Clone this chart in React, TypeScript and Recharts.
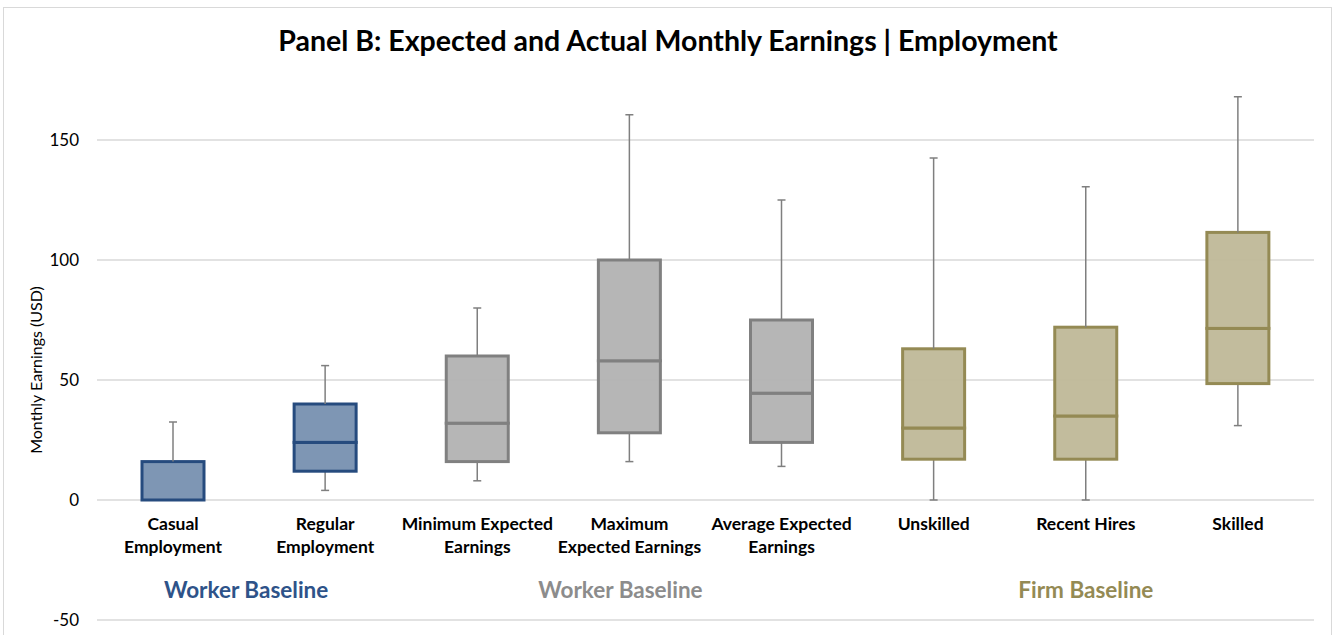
import React from 'react';
import { ComposedChart, Bar, XAxis, YAxis, CartesianGrid, ReferenceArea } from 'recharts';

const categories = [
    'Casual\nEmployment',
    'Regular\nEmployment',
    'Minimum Expected\nEarnings',
    'Maximum\nExpected Earnings',
    'Average Expected\nEarnings',
    'Unskilled',
    'Recent Hires',
    'Skilled',
];
const groupOf = [0, 0, 1, 1, 1, 2, 2, 2];
const whiskerLow = [0, 4, 8, 16, 14, 0, 0, 31];
const q1 = [0, 12, 16, 28, 24, 17, 17, 48.5];
const median = [0, 24, 32, 58, 44.5, 30, 35, 71.5];
const q3 = [16, 40, 60, 100, 75, 63, 72, 111.5];
const whiskerHigh = [32.5, 56, 80, 160.5, 125, 142.5, 130.5, 168];

const yTicks = [-50, 0, 50, 100, 150];
const groupNames = ['Worker Baseline', 'Worker Baseline', 'Firm Baseline'];
const groupFirst = [0, 2, 5];
const groupLast = [1, 4, 7];
const groupShift = [-3, -9, 0];

const palette = [
    { fill: '#7790b0', stroke: '#264b7e', text: '#2e5389' },
    { fill: '#b2b2b2', stroke: '#808080', text: '#8c8c8c' },
    { fill: '#bfb898', stroke: '#948a54', text: '#948a54' },
];

const data = categories.map((name, i) => ({
    name,
    group: groupOf[i],
    base: whiskerLow[i],
    lowWhisker: q1[i] - whiskerLow[i],
    lowBox: median[i] - q1[i],
    highBox: q3[i] - median[i],
    highWhisker: whiskerHigh[i] - q3[i],
}));

const FONT = 'Lato, "Open Sans", sans-serif';
const WHISKER = '#7f7f7f';

const Whisker = (props: any) => {
    const { x, y, width, height, capAt } = props;
    if (!height || height <= 0) return <g />;
    const cx = x + width / 2;
    const capY = capAt === 'top' ? y : y + height;
    return (
        <g>
            <line x1={cx} x2={cx} y1={y} y2={y + height} stroke={WHISKER} strokeWidth={1.5} />
            <line x1={cx - 4} x2={cx + 4} y1={capY} y2={capY} stroke={WHISKER} strokeWidth={1.5} />
        </g>
    );
};

const Box = (props: any) => {
    const { x, y, width, height, payload } = props;
    const c = palette[payload.group];
    return (
        <rect
            x={x}
            y={y}
            width={width}
            height={Math.max(height || 0, 0)}
            fill={c.fill}
            fillOpacity={0.95}
            stroke={c.stroke}
            strokeWidth={3}
        />
    );
};

const CategoryTick = (props: any) => {
    const { x, y, payload } = props;
    const lines = String(payload.value).split('\n');
    // labels sit just under the zero line, not under the -50 edge
    return (
        <text x={x} y={y - 98} textAnchor="middle" fontFamily={FONT} fontWeight={700} fontSize={17.5} fill="#000">
            {lines.map((l, i) => (
                <tspan key={i} x={x} dy={i === 0 ? 0 : 23}>
                    {l}
                </tspan>
            ))}
        </text>
    );
};

const YLabel = (props: any) => {
    const { viewBox } = props;
    const cx = 35;
    const cy = viewBox.y + viewBox.height / 2 + 20;
    return (
        <text
            x={cx}
            y={cy}
            transform={`rotate(-90 ${cx} ${cy})`}
            textAnchor="middle"
            dominantBaseline="central"
            fontFamily={FONT}
            fontSize={16}
            fill="#000"
        >
            Monthly Earnings (USD)
        </text>
    );
};

export default function App() {
    return (
        <div
            style={{
                position: 'absolute',
                left: 0,
                top: 0,
                width: 1336,
                height: 635,
                overflow: 'hidden',
                background: '#fff',
            }}
        >
            <div
                style={{
                    position: 'absolute',
                    left: 3,
                    top: 7,
                    width: 1329,
                    height: 640,
                    border: '1px solid #d9d9d9',
                    boxSizing: 'border-box',
                }}
            />
            <div
                style={{
                    position: 'absolute',
                    left: 0,
                    top: 22,
                    width: 1336,
                    textAlign: 'center',
                    fontFamily: FONT,
                    fontWeight: 700,
                    fontSize: 28.5,
                    lineHeight: '36px',
                    color: '#000',
                }}
            >
                Panel B: Expected and Actual Monthly Earnings | Employment
            </div>
            <ComposedChart
                width={1336}
                height={650}
                data={data}
                margin={{ top: 80, right: 22, left: 0, bottom: 0 }}
                barSize={62}
                style={{ position: 'absolute', left: 0, top: 0 }}
            >
                <CartesianGrid vertical={false} horizontalValues={yTicks} stroke="#d9d9d9" strokeWidth={1.5} />
                <XAxis
                    dataKey="name"
                    height={30}
                    axisLine={false}
                    tickLine={false}
                    tick={<CategoryTick />}
                    interval={0}
                />
                <YAxis
                    width={97}
                    domain={[-50, 175]}
                    ticks={yTicks}
                    allowDataOverflow
                    axisLine={false}
                    tickLine={false}
                    tickSize={0}
                    tickMargin={18}
                    tick={{ fontFamily: FONT, fontSize: 17, fill: '#000' }}
                    label={<YLabel />}
                />
                {groupNames.map((g, i) => (
                    <ReferenceArea
                        key={i}
                        x1={categories[groupFirst[i]]}
                        x2={categories[groupLast[i]]}
                        y1={-40}
                        y2={-35}
                        fill="none"
                        stroke="none"
                        ifOverflow="visible"
                        label={{
                            value: g,
                            position: 'center',
                            dx: groupShift[i],
                            fill: palette[i].text,
                            fontFamily: FONT,
                            fontWeight: 700,
                            fontSize: 22.5,
                        }}
                    />
                ))}
                <Bar dataKey="base" stackId="b" fill="none" isAnimationActive={false} />
                <Bar
                    dataKey="lowWhisker"
                    stackId="b"
                    shape={(p: any) => <Whisker {...p} capAt="bottom" />}
                    isAnimationActive={false}
                />
                <Bar dataKey="lowBox" stackId="b" shape={(p: any) => <Box {...p} />} isAnimationActive={false} />
                <Bar dataKey="highBox" stackId="b" shape={(p: any) => <Box {...p} />} isAnimationActive={false} />
                <Bar
                    dataKey="highWhisker"
                    stackId="b"
                    shape={(p: any) => <Whisker {...p} capAt="top" />}
                    isAnimationActive={false}
                />
            </ComposedChart>
        </div>
    );
}
